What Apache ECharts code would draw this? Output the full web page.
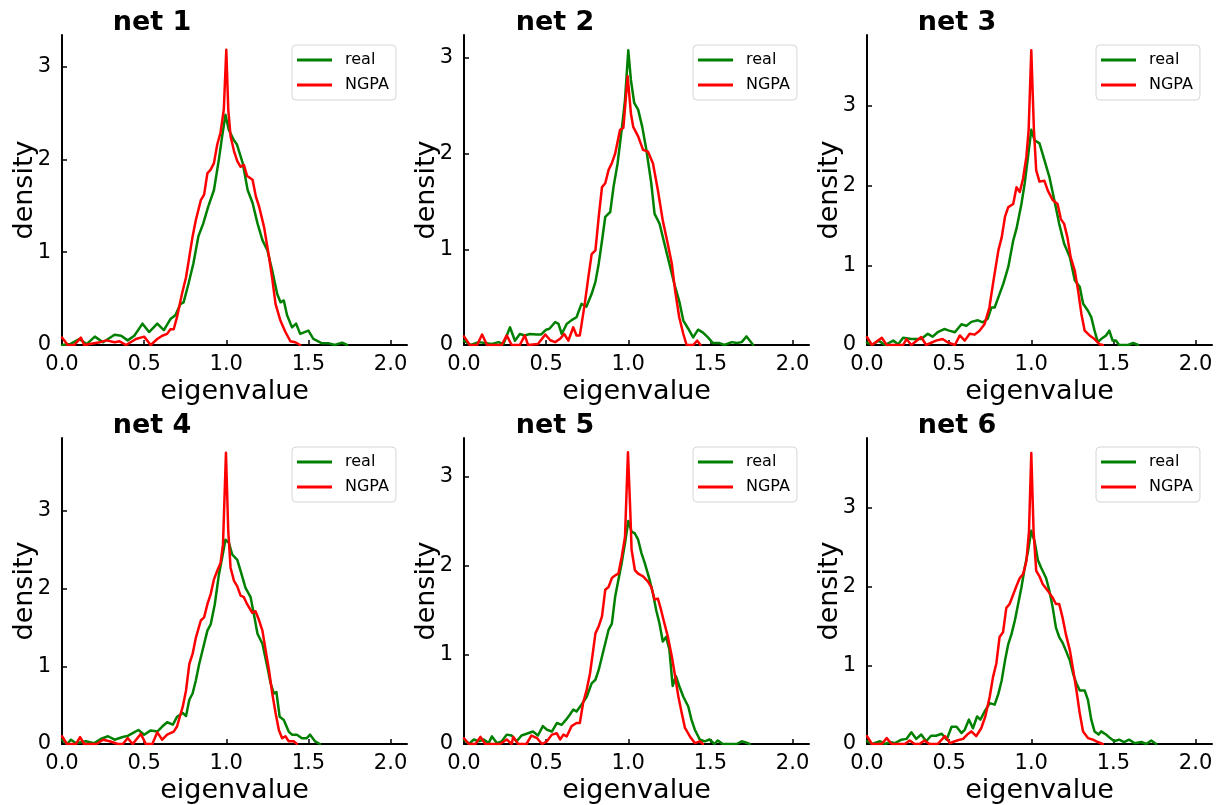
<!DOCTYPE html>
<html><head><meta charset="utf-8">
<script src="https://cdn.jsdelivr.net/npm/echarts@6/dist/echarts.min.js"></script>
<style>html,body{margin:0;padding:0;background:#fff}#c{width:1220px;height:805px}</style>
</head><body><div id="c"></div>
<script>
const titles = ['net 1', 'net 2', 'net 3', 'net 4', 'net 5', 'net 6'];
const seriesNames = ['real', 'NGPA'];
const xTicks = [0, 0.5, 1.0, 1.5, 2.0];
const yTicks = [0, 1, 2, 3];
const xMax = 2.1;
const yMax = [3.34, 3.24, 3.89, 3.94, 3.43, 3.89];

const net1Real = [[0,0],[0.05,0.01],[0.105,0.065],[0.15,0.01],[0.2,0.09],[0.25,0.03],[0.32,0.11],[0.36,0.1],[0.4,0.05],[0.44,0.1],[0.49,0.23],[0.53,0.14],[0.58,0.23],[0.62,0.16],[0.66,0.28],[0.69,0.32],[0.72,0.44],[0.74,0.46],[0.77,0.66],[0.8,0.88],[0.83,1.17],[0.86,1.31],[0.89,1.49],[0.925,1.67],[0.955,2.0],[0.975,2.25],[0.995,2.48],[1.015,2.32],[1.045,2.21],[1.065,2.16],[1.1,1.96],[1.13,1.67],[1.16,1.53],[1.19,1.31],[1.22,1.13],[1.25,1.02],[1.28,0.8],[1.31,0.55],[1.33,0.46],[1.35,0.48],[1.37,0.32],[1.4,0.19],[1.425,0.23],[1.45,0.12],[1.5,0.155],[1.53,0.065],[1.58,0.02],[1.62,0.02],[1.66,0],[1.705,0.025],[1.735,0]];
const net1NGPA = [[0,0.08],[0.035,0],[0.075,0],[0.115,0.08],[0.135,0],[0.23,0.03],[0.27,0.05],[0.32,0.03],[0.35,0.04],[0.39,0],[0.45,0.065],[0.5,0.09],[0.54,0],[0.58,0.065],[0.61,0.1],[0.64,0.12],[0.66,0.17],[0.68,0.17],[0.7,0.3],[0.73,0.55],[0.755,0.73],[0.775,0.95],[0.795,1.17],[0.815,1.35],[0.845,1.56],[0.865,1.62],[0.885,1.85],[0.905,1.89],[0.925,1.96],[0.945,2.16],[0.965,2.29],[0.985,2.54],[1.0,3.18],[1.012,2.54],[1.026,2.25],[1.047,2.09],[1.067,1.98],[1.087,1.92],[1.107,1.94],[1.127,1.82],[1.16,1.78],[1.18,1.6],[1.2,1.49],[1.23,1.27],[1.26,0.95],[1.28,0.71],[1.3,0.44],[1.33,0.26],[1.36,0.14],[1.39,0.04],[1.42,0.03],[1.45,0]];
const net2Real = [[0,0.045],[0.04,0],[0.09,0.03],[0.17,0.01],[0.21,0.03],[0.24,0.01],[0.28,0.185],[0.31,0.045],[0.34,0.115],[0.37,0.1],[0.4,0.115],[0.44,0.11],[0.47,0.11],[0.5,0.16],[0.52,0.17],[0.555,0.24],[0.575,0.22],[0.595,0.115],[0.625,0.22],[0.655,0.26],[0.685,0.29],[0.715,0.43],[0.745,0.4],[0.777,0.535],[0.8,0.66],[0.82,0.85],[0.84,1.09],[0.86,1.34],[0.89,1.39],[0.91,1.65],[0.935,1.9],[0.96,2.25],[0.98,2.56],[1.0,3.08],[1.016,2.77],[1.036,2.53],[1.06,2.46],[1.085,2.28],[1.11,2.04],[1.14,1.69],[1.16,1.37],[1.19,1.27],[1.22,1.06],[1.25,0.85],[1.28,0.64],[1.31,0.46],[1.335,0.255],[1.365,0.17],[1.395,0.08],[1.425,0.16],[1.455,0.13],[1.485,0.08],[1.515,0.02],[1.555,0.02],[1.585,0],[1.63,0.03],[1.66,0.02],[1.69,0.03],[1.72,0.09],[1.76,0]];
const net2NGPA = [[0,0.09],[0.035,0],[0.08,0],[0.11,0.11],[0.14,0],[0.23,0],[0.26,0.1],[0.29,0],[0.34,0],[0.37,0.1],[0.39,0],[0.45,0.01],[0.495,0.11],[0.525,0.05],[0.555,0.03],[0.585,0.065],[0.61,0.115],[0.635,0.045],[0.665,0.185],[0.685,0.1],[0.705,0.1],[0.735,0.43],[0.757,0.71],[0.777,0.95],[0.8,0.99],[0.82,1.34],[0.84,1.65],[0.86,1.69],[0.88,1.83],[0.9,1.9],[0.92,2.0],[0.95,2.25],[0.97,2.27],[0.996,2.81],[1.016,2.42],[1.03,2.28],[1.06,2.18],[1.09,2.04],[1.12,2.02],[1.15,1.9],[1.18,1.62],[1.21,1.3],[1.24,1.06],[1.265,0.85],[1.285,0.57],[1.31,0.29],[1.335,0.115],[1.355,0],[1.395,0],[1.42,0.045],[1.44,0]];
const net3Real = [[0,0.03],[0.03,0],[0.07,0.055],[0.11,0],[0.16,0.055],[0.19,0.01],[0.22,0.09],[0.27,0.075],[0.33,0.075],[0.37,0.14],[0.4,0.105],[0.43,0.16],[0.47,0.2],[0.5,0.18],[0.535,0.16],[0.575,0.26],[0.605,0.24],[0.635,0.29],[0.675,0.31],[0.705,0.285],[0.735,0.33],[0.757,0.47],[0.777,0.47],[0.8,0.6],[0.83,0.77],[0.86,0.98],[0.89,1.31],[0.91,1.46],[0.94,1.77],[0.96,2.03],[0.98,2.36],[1.0,2.7],[1.02,2.57],[1.05,2.53],[1.08,2.32],[1.11,2.11],[1.14,1.82],[1.17,1.52],[1.2,1.27],[1.235,1.1],[1.265,0.81],[1.295,0.73],[1.315,0.52],[1.345,0.43],[1.365,0.35],[1.385,0.18],[1.405,0.035],[1.425,0.075],[1.455,0.12],[1.475,0.18],[1.495,0.055],[1.515,0.055],[1.535,0],[1.59,0],[1.62,0.025],[1.65,0]];
const net3NGPA = [[0,0.1],[0.03,0],[0.09,0.09],[0.12,0],[0.22,0],[0.24,0.075],[0.27,0],[0.33,0.1],[0.36,0],[0.42,0.055],[0.46,0.075],[0.49,0.035],[0.535,0],[0.565,0.12],[0.595,0.055],[0.625,0.14],[0.655,0.13],[0.685,0.18],[0.715,0.26],[0.745,0.47],[0.767,0.77],[0.8,1.19],[0.82,1.35],[0.84,1.61],[0.86,1.73],[0.89,1.77],[0.91,1.98],[0.93,1.92],[0.95,2.09],[0.97,2.36],[0.984,2.7],[1.0,3.7],[1.016,2.7],[1.03,2.19],[1.05,2.05],[1.08,2.06],[1.1,1.94],[1.13,1.82],[1.16,1.77],[1.18,1.58],[1.2,1.52],[1.22,1.35],[1.24,1.1],[1.265,0.93],[1.285,0.68],[1.305,0.39],[1.325,0.18],[1.355,0.12],[1.385,0.075],[1.415,0.01],[1.435,0]];
const net4Real = [[0,0.055],[0.03,0],[0.055,0.055],[0.085,0.01],[0.145,0.035],[0.195,0.01],[0.235,0.065],[0.28,0.1],[0.32,0.055],[0.37,0.09],[0.4,0.105],[0.43,0.14],[0.465,0.18],[0.5,0.12],[0.54,0.175],[0.58,0.16],[0.61,0.225],[0.64,0.28],[0.675,0.25],[0.7,0.35],[0.735,0.4],[0.755,0.36],[0.775,0.57],[0.795,0.65],[0.815,0.82],[0.835,1.03],[0.855,1.2],[0.885,1.46],[0.905,1.54],[0.93,1.8],[0.955,2.18],[0.975,2.4],[0.995,2.63],[1.016,2.59],[1.036,2.44],[1.067,2.37],[1.087,2.23],[1.117,2.01],[1.148,1.89],[1.168,1.67],[1.19,1.42],[1.22,1.29],[1.25,0.99],[1.27,0.78],[1.29,0.65],[1.305,0.67],[1.325,0.35],[1.35,0.31],[1.38,0.16],[1.4,0.12],[1.43,0.12],[1.46,0.075],[1.49,0.075],[1.51,0.12],[1.54,0.035],[1.57,0]];
const net4NGPA = [[0,0.1],[0.03,0],[0.085,0],[0.11,0.09],[0.135,0],[0.21,0],[0.25,0.055],[0.29,0.035],[0.34,0],[0.37,0],[0.4,0.075],[0.43,0],[0.48,0.13],[0.51,0],[0.55,0],[0.58,0.15],[0.61,0.055],[0.64,0.12],[0.68,0.16],[0.7,0.225],[0.735,0.48],[0.755,0.69],[0.775,1.03],[0.795,1.16],[0.815,1.37],[0.845,1.59],[0.865,1.63],[0.885,1.8],[0.905,1.93],[0.925,2.12],[0.945,2.23],[0.965,2.33],[0.98,2.57],[0.998,3.75],[1.012,2.74],[1.026,2.27],[1.047,2.1],[1.067,2.03],[1.087,1.91],[1.107,1.89],[1.127,1.8],[1.158,1.69],[1.178,1.71],[1.2,1.59],[1.22,1.46],[1.24,1.2],[1.26,0.95],[1.28,0.65],[1.3,0.4],[1.32,0.18],[1.34,0.075],[1.36,0.1],[1.38,0.035],[1.41,0.035],[1.43,0]];
const net5Real = [[0,0.05],[0.03,0],[0.06,0.05],[0.09,0.03],[0.12,0.05],[0.15,0.01],[0.17,0.085],[0.2,0.01],[0.23,0.03],[0.26,0.105],[0.29,0.095],[0.32,0.03],[0.35,0.095],[0.39,0.12],[0.42,0.14],[0.45,0.095],[0.48,0.2],[0.505,0.16],[0.535,0.14],[0.565,0.235],[0.595,0.215],[0.62,0.27],[0.645,0.33],[0.665,0.385],[0.685,0.365],[0.715,0.44],[0.747,0.53],[0.777,0.68],[0.8,0.72],[0.82,0.83],[0.84,0.98],[0.86,1.13],[0.88,1.28],[0.9,1.35],[0.92,1.65],[0.94,1.84],[0.96,2.03],[0.98,2.25],[1.0,2.5],[1.02,2.38],[1.04,2.36],[1.06,2.29],[1.08,2.14],[1.1,2.03],[1.13,1.84],[1.15,1.69],[1.17,1.5],[1.19,1.35],[1.21,1.15],[1.23,1.2],[1.25,1.06],[1.27,0.65],[1.29,0.76],[1.31,0.65],[1.335,0.53],[1.365,0.42],[1.385,0.27],[1.405,0.16],[1.435,0.05],[1.465,0.03],[1.495,0.05],[1.525,0],[1.545,0.04],[1.575,0],[1.66,0],[1.69,0.03],[1.71,0.02],[1.74,0]];
const net5NGPA = [[0,0.065],[0.03,0],[0.07,0],[0.1,0.08],[0.13,0],[0.22,0],[0.26,0.05],[0.29,0],[0.3,0.08],[0.33,0],[0.38,0],[0.41,0.095],[0.445,0.065],[0.475,0],[0.505,0.03],[0.535,0.105],[0.565,0.12],[0.585,0.05],[0.605,0.105],[0.625,0.085],[0.655,0.2],[0.685,0.235],[0.705,0.235],[0.725,0.46],[0.747,0.61],[0.767,0.79],[0.787,1.06],[0.8,1.24],[0.82,1.32],[0.84,1.43],[0.86,1.73],[0.88,1.76],[0.9,1.86],[0.92,1.89],[0.94,1.91],[0.96,2.1],[0.98,2.32],[0.998,3.27],[1.012,2.62],[1.02,2.18],[1.04,1.95],[1.06,1.91],[1.09,1.88],[1.12,1.82],[1.14,1.76],[1.16,1.62],[1.18,1.63],[1.2,1.5],[1.22,1.35],[1.24,1.21],[1.265,0.98],[1.285,0.76],[1.305,0.53],[1.325,0.35],[1.345,0.18],[1.375,0.085],[1.405,0.01],[1.435,0.03],[1.455,0]];
const net6Real = [[0,0.035],[0.03,0],[0.08,0.035],[0.11,0],[0.14,0.025],[0.17,0.01],[0.21,0.055],[0.24,0.065],[0.27,0.15],[0.3,0.065],[0.33,0.12],[0.36,0.035],[0.39,0.105],[0.42,0.105],[0.455,0.13],[0.485,0.055],[0.515,0.22],[0.545,0.22],[0.575,0.14],[0.595,0.18],[0.62,0.31],[0.645,0.2],[0.67,0.35],[0.69,0.31],[0.715,0.41],[0.747,0.52],[0.777,0.5],[0.8,0.64],[0.82,0.81],[0.84,1.06],[0.86,1.27],[0.88,1.4],[0.9,1.57],[0.92,1.78],[0.94,1.99],[0.96,2.24],[0.98,2.45],[1.0,2.71],[1.02,2.58],[1.04,2.34],[1.06,2.24],[1.09,2.11],[1.11,1.95],[1.13,1.74],[1.15,1.48],[1.17,1.36],[1.19,1.29],[1.21,1.19],[1.235,1.06],[1.255,0.89],[1.275,0.77],[1.295,0.68],[1.325,0.68],[1.345,0.56],[1.365,0.31],[1.385,0.16],[1.41,0.12],[1.425,0.16],[1.455,0.12],[1.48,0.075],[1.505,0.035],[1.535,0.055],[1.565,0.025],[1.595,0.055],[1.63,0.01],[1.67,0.025],[1.7,0],[1.73,0.045],[1.76,0]];
const net6NGPA = [[0,0.1],[0.03,0],[0.09,0],[0.12,0.075],[0.15,0],[0.23,0],[0.26,0.045],[0.29,0],[0.32,0],[0.35,0.045],[0.38,0],[0.43,0],[0.455,0.055],[0.475,0.1],[0.505,0.01],[0.535,0.035],[0.565,0.055],[0.585,0.065],[0.61,0.12],[0.635,0.16],[0.665,0.1],[0.695,0.2],[0.72,0.35],[0.747,0.6],[0.767,0.85],[0.787,1.02],[0.807,1.36],[0.828,1.42],[0.848,1.73],[0.868,1.78],[0.89,1.9],[0.91,2.01],[0.93,2.11],[0.95,2.16],[0.97,2.32],[0.986,2.7],[1.0,3.7],[1.014,2.7],[1.03,2.2],[1.05,2.13],[1.07,2.03],[1.1,1.95],[1.13,1.86],[1.15,1.78],[1.17,1.78],[1.19,1.61],[1.21,1.4],[1.235,1.19],[1.255,0.94],[1.275,0.68],[1.295,0.39],[1.315,0.16],[1.345,0.075],[1.375,0.055],[1.405,0.025],[1.435,0]];

const realData = [net1Real, net2Real, net3Real, net4Real, net5Real, net6Real];
const ngpaData = [net1NGPA, net2NGPA, net3NGPA, net4NGPA, net5NGPA, net6NGPA];

// layout (pixels)
const colLeft = [62, 464, 867];
const rowTop = [35, 438];
const gridW = 345, gridH = 310;
const titleX = [152, 555, 957];
const titleY = [9, 412];
const legendX = [292, 693, 1096];
const legendY = [45, 447];
const FONT = 'DejaVu Sans';
const COLORS = ['#008000', '#ff0000'];

const grid = [], xAxis = [], yAxis = [], series = [], legend = [], graphic = [];
for (let i = 0; i < 6; i++) {
  const r = Math.floor(i / 3), c = i % 3;
  grid.push({left: colLeft[c], top: rowTop[r], width: gridW, height: gridH, containLabel: false});
  xAxis.push({
    type: 'value', gridIndex: i, min: 0, max: xMax,
    axisLine: {show: true, onZero: false, lineStyle: {color: '#000', width: 2}},
    axisTick: {show: true, inside: true, length: 5, customValues: xTicks, lineStyle: {color: '#000', width: 1.5}},
    axisLabel: {customValues: xTicks, formatter: v => Number(v).toFixed(1), fontSize: 21, color: '#000', fontFamily: FONT, margin: 9},
    splitLine: {show: false},
    name: 'eigenvalue', nameLocation: 'middle', nameGap: 33,
    nameTextStyle: {fontSize: 27, color: '#000', fontFamily: FONT}
  });
  yAxis.push({
    type: 'value', gridIndex: i, min: 0, max: yMax[i],
    axisLine: {show: true, onZero: false, lineStyle: {color: '#000', width: 2}},
    axisTick: {show: true, inside: true, length: 5, customValues: yTicks, lineStyle: {color: '#000', width: 1.5}},
    axisLabel: {customValues: yTicks, fontSize: 21, color: '#000', fontFamily: FONT, margin: 11},
    splitLine: {show: false},
    name: 'density', nameLocation: 'middle', nameGap: 24, nameRotate: 90, nameMoveOverlap: false,
    nameTextStyle: {fontSize: 27, color: '#000', fontFamily: FONT}
  });
  [realData[i], ngpaData[i]].forEach((d, k) => {
    series.push({
      type: 'line', name: seriesNames[k], xAxisIndex: i, yAxisIndex: i, data: d,
      showSymbol: false, symbol: 'none', smooth: false, clip: true,
      lineStyle: {color: COLORS[k], width: 2.5, join: 'round', cap: 'round'}, itemStyle: {color: COLORS[k]},
      emphasis: {disabled: true}, z: 2 + k
    });
  });
  legend.push({
    left: legendX[c], top: legendY[r], orient: 'vertical', data: seriesNames,
    icon: 'rect', itemWidth: 35, itemHeight: 3, itemGap: 9,
    padding: [7, 7, 7, 5], borderColor: '#d6d6d6', borderWidth: 1, borderRadius: 4,
    backgroundColor: 'rgba(255,255,255,0.8)', selectedMode: false,
    textStyle: {fontSize: 16, fontFamily: FONT, color: '#000', lineHeight: 16, padding: [0, 0, 0, 8]}
  });
  graphic.push({
    type: 'text', x: titleX[c], y: titleY[r],
    style: {text: titles[i], fontSize: 27, fontWeight: 'bold', fontFamily: FONT, fill: '#000', align: 'center', verticalAlign: 'top'}
  });
}

const chart = echarts.init(document.getElementById('c'), null, {renderer: 'canvas'});
chart.setOption({
  animation: false, backgroundColor: '#fff',
  grid, xAxis, yAxis, series, legend, graphic, tooltip: {show: false}
});
</script>
</body></html>
